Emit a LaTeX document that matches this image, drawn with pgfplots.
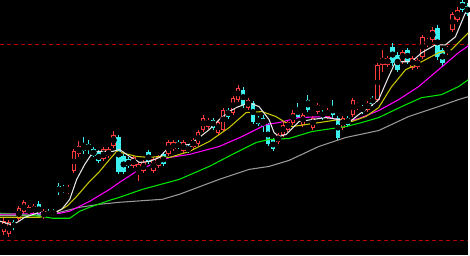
\documentclass[border=0pt]{standalone}
\usepackage{pgfplots}
\pgfplotsset{compat=1.18}
\usepackage{pgfplotstable}
\definecolor{cRed}{HTML}{FF3C3C}
\definecolor{cCyan}{HTML}{3CF0F0}
\definecolor{cWhite}{HTML}{E6E6E6}
\definecolor{cYellow}{HTML}{C8C800}
\definecolor{cMag}{HTML}{FF00FF}
\definecolor{cGreen}{HTML}{00E600}
\definecolor{cGray}{HTML}{9A9A9A}
\definecolor{cDash}{HTML}{B40000}
% candles in pixel coordinates (y downward): x open high low close
\pgfplotstableread{
x o h l c
4 233 219 236 222
9 235 221 238 223
19 220 207 222 209
24 213 201 215 203
29 215 206 217 208
34 213 205 215 207
44 218 210 220 212
69 193 186 195 188
74 172 150 174 152
79 155 142 158 147
104 160 148 162 150
109 157 148 159 150
114 147 131 149 135
134 167 156 169 158
139 175 163 182 165
144 172 161 174 163
154 172 158 174 160
159 167 156 169 158
169 155 140 157 143
174 150 141 152 143
184 152 141 154 143
194 148 138 150 140
199 145 130 147 132
204 130 115 132 118
209 127 118 129 120
219 133 120 135 122
224 130 108 132 110
234 113 96 115 98
239 100 85 102 88
249 108 98 110 100
279 143 133 145 135
284 135 122 137 125
289 130 120 132 122
294 123 110 125 113
304 125 113 127 115
314 128 116 130 118
319 112 103 114 105
329 117 108 119 110
344 128 116 130 118
354 115 98 117 100
359 108 102 110 104
369 110 101 112 103
379 100 63 102 65
384 65 50 72 58
389 65 56 67 58
404 62 50 64 52
414 68 56 70 58
419 67 58 69 60
424 57 35 59 37
429 45 38 47 40
434 40 27 42 30
449 53 46 55 48
454 30 12 32 14
459 20 7 22 10
}\upT
\pgfplotstableread{
x o h l c
14 223 221 231 229
39 205 202 218 216
49 212 210 219 217
54 212 210 217 215
59 187 184 196 193
64 188 186 194 192
84 145 137 155 152
89 145 141 155 150
94 150 148 158 157
99 153 151 164 162
119 137 135 175 173
124 157 155 175 173
129 160 158 169 167
149 153 151 165 163
164 155 153 167 165
179 143 141 150 148
189 147 145 154 152
214 120 118 130 128
229 110 108 119 117
244 90 87 108 105
254 103 101 124 122
259 118 116 126 124
264 118 115 132 126
269 125 123 147 145
274 140 138 152 150
299 108 103 118 117
309 100 95 112 110
324 112 110 120 118
334 107 100 118 115
339 118 116 140 138
349 118 116 127 125
364 107 105 114 112
374 98 96 106 104
394 47 43 66 63
399 55 52 72 70
409 50 48 64 62
439 28 25 60 57
444 50 48 66 63
464 2 0 12 10
469 6 3 16 14
}\downT
\begin{document}
\begin{tikzpicture}
\begin{axis}[
  scale only axis, width=352.5pt, height=192pt,
  xmin=0, xmax=470, ymin=0, ymax=256, y dir=reverse,
  axis line style={draw=none}, xtick=\empty, ytick=\empty,
  axis background/.style={fill=black},
  clip=true,
]
% dashed reference lines
\addplot[cDash, line width=0.75pt, dash pattern=on 3pt off 2.25pt] coordinates {(0,45) (470,45)};
\addplot[cDash, line width=0.75pt, dash pattern=on 3pt off 2.25pt] coordinates {(0,241) (470,241)};
% wicks up
\addplot[only marks, mark=none, error bars/.cd, y dir=both, y explicit, error mark=none,
  error bar style={draw=cRed, line width=0.75pt}]
  table[x=x, y expr={(\thisrow{h}+\thisrow{l})/2}, y error expr={(\thisrow{l}-\thisrow{h})/2}] {\upT};
% bodies up
\addplot[only marks, mark=none, error bars/.cd, y dir=both, y explicit, error mark=none,
  error bar style={draw=cRed, line width=3.3pt}]
  table[x=x, y expr={(\thisrow{o}+\thisrow{c})/2}, y error expr={max(abs(\thisrow{o}-\thisrow{c})/2,0.5)}] {\upT};
\addplot[only marks, mark=none, error bars/.cd, y dir=both, y explicit, error mark=none,
  error bar style={draw=black, line width=1.8pt}]
  table[x=x, y expr={(\thisrow{o}+\thisrow{c})/2}, y error expr={max(abs(\thisrow{o}-\thisrow{c})/2-1,0)}] {\upT};
% wicks down
\addplot[only marks, mark=none, error bars/.cd, y dir=both, y explicit, error mark=none,
  error bar style={draw=cCyan, line width=0.75pt}]
  table[x=x, y expr={(\thisrow{h}+\thisrow{l})/2}, y error expr={(\thisrow{l}-\thisrow{h})/2}] {\downT};
% bodies down
\addplot[only marks, mark=none, error bars/.cd, y dir=both, y explicit, error mark=none,
  error bar style={draw=cCyan, line width=3.3pt}]
  table[x=x, y expr={(\thisrow{o}+\thisrow{c})/2}, y error expr={max(abs(\thisrow{o}-\thisrow{c})/2,0.5)}] {\downT};
% moving averages
\addplot[cGray, line width=0.8pt] coordinates {(0,216)(40,216)(60,213)(80,208)(100,205)(120,203)(163,200)(180,195)(220,180)(250,170)(270,167)(290,161)(320,147)(347,138)(380,131)(410,117)(440,107)(460,100)(470,97)};
\addplot[cGreen, line width=0.8pt] coordinates {(0,214)(20,215)(40,217)(53,219)(70,219)(80,212)(90,208)(110,201)(120,198)(143,190)(180,180)(210,167)(237,153)(257,143)(270,140)(290,139)(313,132)(347,127)(363,123)(380,118)(403,107)(423,98)(443,95)(460,87)(470,80)};
\addplot[cMag, line width=0.8pt] coordinates {(0,215)(60,214)(70,212)(90,202)(110,190)(120,183)(140,170)(160,162)(170,158)(190,155)(220,147)(243,137)(267,125)(280,123)(300,118)(327,117)(347,122)(360,119)(380,111)(400,100)(420,87)(440,70)(460,53)(470,46)};
\addplot[cYellow, line width=0.8pt] coordinates {(0,218)(20,218)(40,218)(53,215)(67,207)(77,197)(90,182)(100,172)(110,160)(117,152)(137,157)(150,158)(160,157)(170,158)(190,152)(210,142)(230,128)(247,113)(263,112)(277,117)(293,127)(307,125)(327,122)(340,120)(353,122)(367,117)(380,108)(393,87)(407,70)(423,62)(440,53)(453,50)(463,40)(470,33)};
\addplot[cWhite, line width=0.8pt] coordinates {(0,222)(13,226)(25,218)(40,213)(55,213)(62,210)(70,200)(77,180)(85,165)(93,153)(100,152)(113,152)(120,150)(130,157)(140,163)(150,162)(160,158)(170,147)(180,146)(190,145)(200,138)(210,130)(220,120)(230,112)(237,108)(250,103)(260,107)(270,120)(275,133)(280,137)(287,135)(300,122)(313,120)(327,118)(340,120)(350,123)(360,115)(370,108)(380,100)(390,77)(397,62)(413,62)(423,53)(437,45)(447,45)(457,37)(467,13)(470,8)};
\end{axis}
\end{tikzpicture}
\end{document}
